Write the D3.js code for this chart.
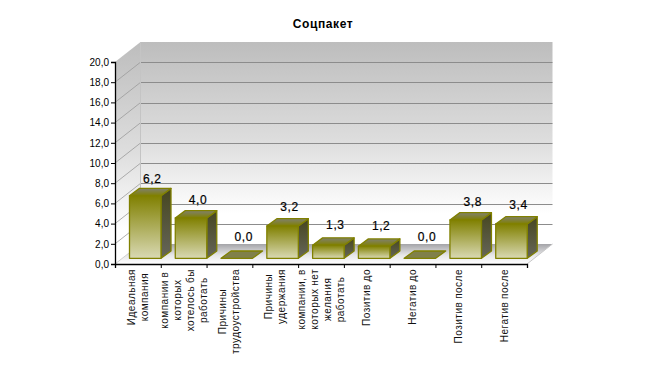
<!DOCTYPE html>
<html>
<head>
<meta charset="utf-8">
<script src="https://cdn.jsdelivr.net/npm/d3@7"></script>
<style>
body { margin: 0; background: #fff; }
text { font-family: "Liberation Sans", Arial, sans-serif; fill: #000; }
</style>
</head>
<body>
<script>
const width = 645;
const height = 374;

var title = "Соцпакет";
var categories = [
    ["Идеальная", "компания"],
    ["компании в", "которых", "хотелось бы", "работать"],
    ["Причины", "трудоустройства"],
    ["Причины", "удержания"],
    ["компании, в", "которых нет", "желания", "работать"],
    ["Позитив до"],
    ["Негатив до"],
    ["Позитив после"],
    ["Негатив после"]
];
var values = [6.2, 4.0, 0.0, 3.2, 1.3, 1.2, 0.0, 3.8, 3.4];
var yTicks = [0, 2, 4, 6, 8, 10, 12, 14, 16, 18, 20];

// chart depth, in pixels
var wallDx = 25.5, wallDy = -20;
var barDx = 10, barDy = -7.3;
var barOffsetX = 14.5, barOffsetY = -5.7, barWidth = 31.5;

var xScale = d3.scaleBand()
    .domain(d3.range(categories.length))
    .range([115, 527]);

var yScale = d3.scaleLinear()
    .domain([0, 20])
    .range([264, 62]);

var fmt = function(d) { return d3.format(".1f")(d).replace(".", ","); };

var svg = d3.select("body")
    .append("svg")
    .attr("width", width)
    .attr("height", height);

var defs = svg.append("defs");

function gradient(id, stops, x2, y2) {
    var g = defs.append("linearGradient")
        .attr("id", id)
        .attr("x1", 0).attr("y1", 0)
        .attr("x2", x2).attr("y2", y2);
    stops.forEach(function(s) {
        g.append("stop").attr("offset", s[0]).attr("stop-color", s[1]);
    });
}

gradient("wall", [[0, "#bdbdbd"], [0.5, "#dedede"], [0.85, "#ffffff"], [1, "#ffffff"]], 0, 1);
gradient("floor", [[0, "#a4a4a8"], [0.55, "#e6e6e8"], [1, "#ffffff"]], 0, 1);
gradient("front", [[0, "#808000"], [1, "#d9d9b3"]], 0, 1);
gradient("top", [[0, "#808070"], [1, "#808000"]], 0, 1);
gradient("side", [[0, "#46461f"], [1, "#66665a"]], 0, 1);

var x0 = xScale.range()[0], x1 = xScale.range()[1];
var y0 = yScale(0), yTop = yScale(20);

function pts(a) { return a.map(function(p) { return p.join(","); }).join(" "); }

// walls and floor
svg.append("polygon")
    .attr("points", pts([[x0 + wallDx, yTop + wallDy], [x1 + wallDx, yTop + wallDy], [x1 + wallDx, y0 + wallDy], [x0 + wallDx, y0 + wallDy]]))
    .attr("fill", "url(#wall)");
svg.append("polygon")
    .attr("points", pts([[x0, yTop], [x0 + wallDx, yTop + wallDy], [x0 + wallDx, y0 + wallDy], [x0, y0]]))
    .attr("fill", "url(#wall)");
svg.append("polygon")
    .attr("points", pts([[x0, y0], [x0 + wallDx, y0 + wallDy], [x1 + wallDx, y0 + wallDy], [x1, y0]]))
    .attr("fill", "url(#floor)");

// grid
var gridTicks = yTicks.slice(1, -1);
svg.selectAll(".grid-back")
    .data(gridTicks)
    .enter()
    .append("line")
    .attr("x1", x0 + wallDx)
    .attr("x2", x1 + wallDx)
    .attr("y1", function(d) { return Math.round(yScale(d) + wallDy) + 0.5; })
    .attr("y2", function(d) { return Math.round(yScale(d) + wallDy) + 0.5; })
    .attr("stroke", "#8c8c8c");
svg.selectAll(".grid-side")
    .data(gridTicks)
    .enter()
    .append("line")
    .attr("x1", x0)
    .attr("x2", x0 + wallDx)
    .attr("y1", function(d) { return yScale(d); })
    .attr("y2", function(d) { return yScale(d) + wallDy; })
    .attr("stroke", "#9a9a9a")
    .attr("stroke-width", 0.8);
svg.append("line")
    .attr("x1", x0 + wallDx).attr("x2", x0 + wallDx)
    .attr("y1", yTop + wallDy).attr("y2", y0 + wallDy)
    .attr("stroke", "#c4c4c4");
svg.append("line")
    .attr("x1", x1).attr("x2", x1 + wallDx)
    .attr("y1", y0).attr("y2", y0 + wallDy)
    .attr("stroke", "#c8c8c8");
svg.append("line")
    .attr("x1", x0).attr("x2", x0 + wallDx)
    .attr("y1", y0).attr("y2", y0 + wallDy)
    .attr("stroke", "#d0d0d0");

// bars
function bx(i) { return xScale(i) + barOffsetX; }
function by(v) { return yScale(v) + barOffsetY; }
var base = yScale(0) + barOffsetY;

var bars = svg.selectAll(".bar")
    .data(values)
    .enter()
    .append("g")
    .attr("class", "bar")
    .attr("stroke", "#808000")
    .attr("stroke-width", 1.3)
    .attr("stroke-linejoin", "round");

bars.each(function(d, i) {
    var g = d3.select(this);
    var l = bx(i), r = l + barWidth, t = by(d);
    if (d > 0) {
        g.append("polygon")
            .attr("fill", "url(#side)")
            .attr("points", pts([[r, t], [r + barDx, t + barDy], [r + barDx, base + barDy], [r, base]]));
    }
    g.append("polygon")
        .attr("fill", d > 0 ? "url(#top)" : "#80804a")
        .attr("points", pts([[l, t], [r, t], [r + barDx, t + barDy], [l + barDx, t + barDy]]));
    if (d > 0) {
        g.append("rect")
            .attr("fill", "url(#front)")
            .attr("x", l)
            .attr("y", t)
            .attr("width", barWidth)
            .attr("height", base - t);
    }
});

// value labels sit further off the low bars
svg.selectAll(".value")
    .data(values)
    .enter()
    .append("text")
    .attr("class", "value")
    .attr("x", function(d, i) { return bx(i) + barWidth / 2 + 7; })
    .attr("y", function(d) { return by(d) + barDy - (10 - 0.8 * d); })
    .attr("text-anchor", "middle")
    .style("font-size", "12px")
    .style("letter-spacing", "0.6px")
    .style("stroke", "#000")
    .style("stroke-width", "0.2px")
    .text(fmt);

// axes
var yAxis = svg.append("g")
    .attr("transform", "translate(" + x0 + ",0)")
    .call(d3.axisLeft(yScale).tickValues(yTicks).tickFormat(fmt).tickSize(4).tickPadding(2));
yAxis.selectAll("text").style("font-size", "10px");

var xAxis = svg.append("g")
    .attr("transform", "translate(0," + y0 + ")")
    .call(d3.axisBottom(d3.scaleLinear().domain([0, categories.length]).range([x0, x1]))
        .tickValues(d3.range(categories.length + 1)).tickFormat("").tickSize(4));
[yAxis, xAxis].forEach(function(a) {
    a.select(".domain").attr("stroke", "#000").attr("stroke-width", 1.3);
    a.selectAll("line").attr("stroke", "#000");
});

// category labels, wrapped, centred on the longest line
var labels = svg.selectAll(".cat")
    .data(categories)
    .enter()
    .append("g")
    .attr("class", "cat");

labels.each(function(lines, i) {
    var cx = xScale(i) + xScale.bandwidth() / 2;
    var lh = 13;
    var g = d3.select(this);
    var t = g.selectAll("text")
        .data(lines)
        .enter()
        .append("text")
        .style("font-size", "10px")
        .style("letter-spacing", "0.5px")
        .style("word-spacing", "-0.5px")
        .style("fill", "#111")
        .attr("text-anchor", "middle")
        .text(function(d) { return d; });
    var maxLen = d3.max(t.nodes(), function(n) { return n.getComputedTextLength(); });
    var cy = 269 + maxLen / 2;
    t.attr("transform", function(d, j) {
        var lx = cx + (j - (lines.length - 1) / 2) * lh + 3.5;
        return "translate(" + lx + "," + cy + ") rotate(-90)";
    });
});

// title
svg.append("text")
    .attr("x", 323)
    .attr("y", 28)
    .attr("text-anchor", "middle")
    .style("font-size", "12px")
    .style("font-weight", "bold")
    .style("letter-spacing", "0.6px")
    .text(title);
</script>
</body>
</html>
